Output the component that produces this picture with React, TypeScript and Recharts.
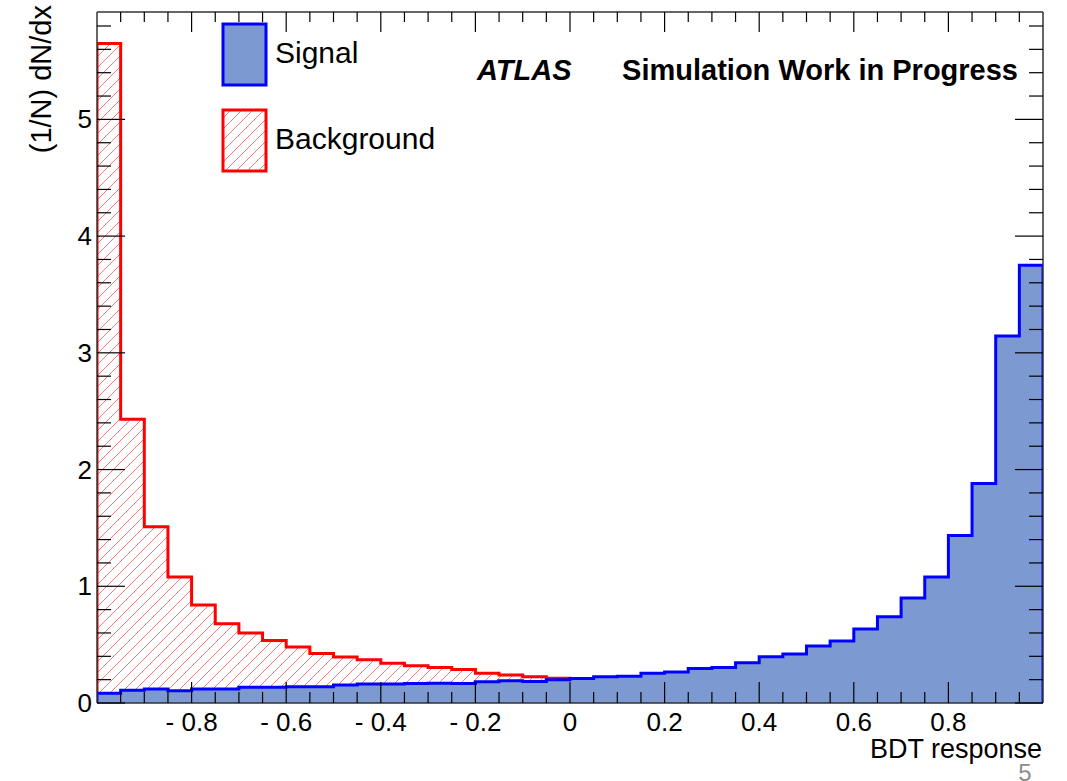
import { ComposedChart, Area, XAxis, YAxis } from 'recharts'

// 40 bins of width 0.05 from -1 to 1, normalised (1/N) dN/dx
const BIN_LOW = -1
const BIN_WIDTH = 0.05

const SIGNAL = [
  0.083, 0.11, 0.12, 0.105, 0.12, 0.12, 0.134, 0.134, 0.14, 0.14,
  0.154, 0.163, 0.163, 0.168, 0.17, 0.168, 0.183, 0.19, 0.185, 0.2,
  0.21, 0.225, 0.23, 0.255, 0.265, 0.295, 0.305, 0.345, 0.397, 0.42,
  0.488, 0.531, 0.634, 0.739, 0.9, 1.08, 1.436, 1.88, 3.145, 3.75,
]

const BACKGROUND = [
  5.65, 2.43, 1.51, 1.08, 0.84, 0.68, 0.6, 0.535, 0.48, 0.425,
  0.395, 0.37, 0.34, 0.32, 0.305, 0.288, 0.254, 0.24, 0.225, 0.212,
  0.19, 0.175, 0.16, 0.15, 0.14, 0.13, 0.12, 0.11, 0.1, 0.095,
  0.09, 0.085, 0.08, 0.075, 0.07, 0.065, 0.06, 0.055, 0.05, 0.05,
]

const X_LABELS = [-0.8, -0.6, -0.4, -0.2, 0, 0.2, 0.4, 0.6, 0.8]
const Y_LABELS = [0, 1, 2, 3, 4, 5]
const X_MINOR = 0.05
const Y_MINOR = 0.2
const X_DOMAIN: [number, number] = [-1, 1]
const Y_DOMAIN: [number, number] = [0, 5.92]

const FONT = '"Liberation Sans", Arial, Helvetica, sans-serif'

// step histogram: closed outline from 0 at the left edge to 0 at the right edge
const data: { x: number; sig: number; bkg: number }[] = []
data.push({ x: BIN_LOW, sig: 0, bkg: 0 })
SIGNAL.forEach((s, i) => {
  data.push({ x: +(BIN_LOW + i * BIN_WIDTH).toFixed(3), sig: s, bkg: BACKGROUND[i] })
})
const xHigh = +(BIN_LOW + SIGNAL.length * BIN_WIDTH).toFixed(3)
data.push({ x: xHigh, sig: SIGNAL[SIGNAL.length - 1], bkg: BACKGROUND[BACKGROUND.length - 1] })
data.push({ x: xHigh, sig: 0, bkg: 0 })

const xTicks: number[] = []
for (let i = 1; i < 40; i++) xTicks.push(+(X_DOMAIN[0] + i * X_MINOR).toFixed(3))
const yTicks: number[] = []
for (let i = 0; i < 30; i++) yTicks.push(+(i * Y_MINOR).toFixed(3))

const isXMajor = (v: number) => X_LABELS.some(l => Math.abs(l - v) < 1e-6)
const isYMajor = (v: number) => Y_LABELS.some(l => Math.abs(l - v) < 1e-6)
const fmtX = (v: number) => (v < 0 ? `- ${Math.abs(v).toFixed(1)}` : v === 0 ? '0' : v.toFixed(1))

function BottomTick({ x, y, payload }: any) {
  const major = isXMajor(payload.value)
  return (
    <g>
      <line x1={x} x2={x} y1={y} y2={y - (major ? 21 : 11)} stroke="#000" strokeWidth={1.2} />
      {major && (
        <text x={x} y={y + 28} textAnchor="middle" fontSize={26} fontFamily={FONT} fill="#000">
          {fmtX(payload.value)}
        </text>
      )}
    </g>
  )
}

function TopTick({ x, y, payload }: any) {
  const major = isXMajor(payload.value)
  return <line x1={x} x2={x} y1={y} y2={y + (major ? 20 : 10)} stroke="#000" strokeWidth={1.2} />
}

function LeftTick({ x, y, payload }: any) {
  const major = isYMajor(payload.value)
  return (
    <g>
      <line x1={x} x2={x + (major ? 28 : 14)} y1={y} y2={y} stroke="#000" strokeWidth={1.2} />
      {major && (
        <text x={x - 5} y={y + 9} textAnchor="end" fontSize={26} fontFamily={FONT} fill="#000">
          {payload.value}
        </text>
      )}
    </g>
  )
}

function RightTick({ x, y, payload }: any) {
  const major = isYMajor(payload.value)
  return <line x1={x} x2={x - (major ? 28 : 14)} y1={y} y2={y} stroke="#000" strokeWidth={1.2} />
}

export default function App() {
  return (
    <div style={{ position: 'fixed', left: 0, top: 0, width: 1067, height: 781, background: '#fff' }}>
      <ComposedChart
        width={1067}
        height={781}
        data={data}
        margin={{ top: 11, right: 23, bottom: 77, left: 96 }}
      >
        <defs>
          <pattern id="hatch" patternUnits="userSpaceOnUse" width={11} height={11}>
            <path d="M0,11 L11,0 M-3,3 L3,-3 M8,14 L14,8" stroke="#ff7a7a" strokeWidth={1} />
          </pattern>
        </defs>
        <XAxis
          xAxisId="bottom"
          dataKey="x"
          type="number"
          domain={X_DOMAIN}
          allowDataOverflow
          ticks={xTicks}
          interval={0}
          tickSize={0}
          tickMargin={0}
          tickLine={false}
          tick={BottomTick}
          height={1}
          axisLine={{ stroke: '#333', strokeWidth: 1.5 }}
        />
        <XAxis
          xAxisId="top"
          orientation="top"
          dataKey="x"
          type="number"
          domain={X_DOMAIN}
          allowDataOverflow
          ticks={xTicks}
          interval={0}
          tickSize={0}
          tickMargin={0}
          tickLine={false}
          tick={TopTick}
          height={1}
          axisLine={{ stroke: '#333', strokeWidth: 1.5 }}
        />
        <YAxis
          yAxisId="left"
          type="number"
          domain={Y_DOMAIN}
          allowDataOverflow
          ticks={yTicks}
          interval={0}
          tickSize={0}
          tickMargin={0}
          tickLine={false}
          tick={LeftTick}
          width={1}
          axisLine={{ stroke: '#333', strokeWidth: 1.5 }}
        />
        <YAxis
          yAxisId="right"
          orientation="right"
          type="number"
          domain={Y_DOMAIN}
          allowDataOverflow
          ticks={yTicks}
          interval={0}
          tickSize={0}
          tickMargin={0}
          tickLine={false}
          tick={RightTick}
          width={1}
          axisLine={{ stroke: '#333', strokeWidth: 1.5 }}
        />
        <Area
          xAxisId="bottom"
          yAxisId="left"
          dataKey="bkg"
          type="stepAfter"
          stroke="#ff0000"
          strokeWidth={3}
          fill="url(#hatch)"
          fillOpacity={1}
          dot={false}
          activeDot={false}
          isAnimationActive={false}
        />
        <Area
          xAxisId="bottom"
          yAxisId="left"
          dataKey="sig"
          type="stepAfter"
          stroke="#0000ff"
          strokeWidth={3}
          fill="#7d99d1"
          fillOpacity={1}
          dot={false}
          activeDot={false}
          isAnimationActive={false}
        />

        {/* legend */}
        <rect x={223} y={24} width={43} height={61} fill="#7d99d1" stroke="#0000ff" strokeWidth={3} />
        <text x={275} y={63} fontSize={30} fontFamily={FONT} fill="#000">Signal</text>
        <rect x={223} y={110} width={43} height={61} fill="url(#hatch)" stroke="#ff0000" strokeWidth={3} />
        <text x={275} y={149} fontSize={30} fontFamily={FONT} fill="#000">Background</text>

        {/* labels */}
        <text x={477} y={80} fontSize={29} fontFamily={FONT} fontWeight="bold" fontStyle="italic" fill="#000">ATLAS</text>
        <text x={1018} y={80} fontSize={29} fontFamily={FONT} fontWeight="bold" textAnchor="end" fill="#000">
          Simulation Work in Progress
        </text>
        <text x={1042} y={758} fontSize={27} fontFamily={FONT} textAnchor="end" fill="#000">BDT response</text>
        <text
          transform="translate(51, 5) rotate(-90)"
          fontSize={29}
          fontFamily={FONT}
          textAnchor="end"
          fill="#000"
        >
          (1/N) dN/dx
        </text>
        <text x={1025} y={781} fontSize={24} fontFamily={FONT} textAnchor="middle" fill="#8c8c8c">5</text>
      </ComposedChart>
    </div>
  )
}
